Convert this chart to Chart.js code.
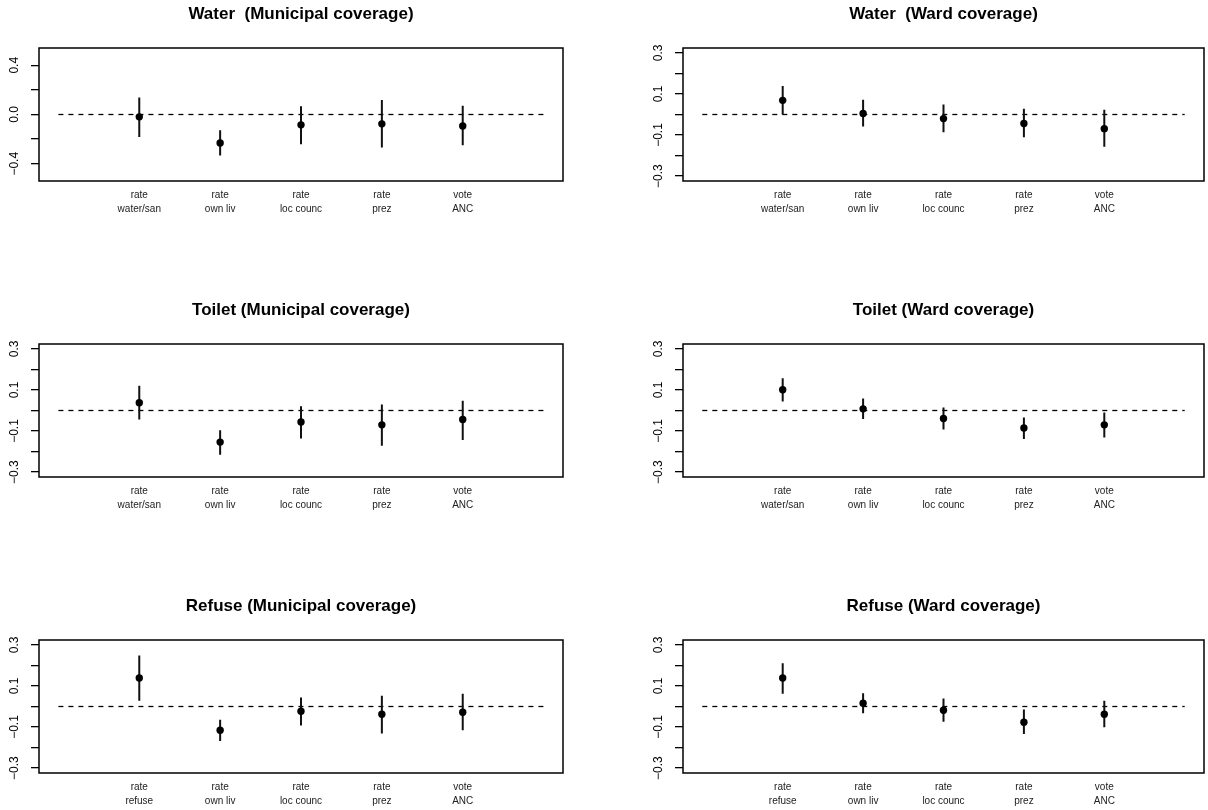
<!DOCTYPE html>
<html>
<head>
<meta charset="utf-8">
<script src="https://cdn.jsdelivr.net/npm/chart.js@4.4.1/dist/chart.umd.min.js"></script>
<style>
  body { margin: 0; background: #fff; }
  .panel { position: absolute; width: 604px; height: 296px; }
</style>
</head>
<body>
<div class="panel" style="left:0;top:0"><canvas id="p1" width="604" height="296"></canvas></div>
<div class="panel" style="left:604px;top:0"><canvas id="p2" width="604" height="296"></canvas></div>
<div class="panel" style="left:0;top:296px"><canvas id="p3" width="604" height="296"></canvas></div>
<div class="panel" style="left:604px;top:296px"><canvas id="p4" width="604" height="296"></canvas></div>
<div class="panel" style="left:0;top:592px"><canvas id="p5" width="604" height="296"></canvas></div>
<div class="panel" style="left:604px;top:592px"><canvas id="p6" width="604" height="296"></canvas></div>

<script>
// categories (two-line labels)
const catWater = [["rate", "water/san"], ["rate", "own liv"], ["rate", "loc counc"], ["rate", "prez"], ["vote", "ANC"]];
const catRefuse = [["rate", "refuse"], ["rate", "own liv"], ["rate", "loc counc"], ["rate", "prez"], ["vote", "ANC"]];
const catPos = [1, 2, 3, 4, 5];

// y ticks
const ticksWide = [-0.4, -0.2, 0, 0.2, 0.4];
const ticksWideText = ["\u22120.4", "", "0.0", "", "0.4"];
const ticksNarrow = [-0.3, -0.2, -0.1, 0, 0.1, 0.2, 0.3];
const ticksNarrowText = ["\u22120.3", "", "\u22120.1", "", "0.1", "", "0.3"];

// Water (Municipal coverage)
const waterMunEst = [-0.019, -0.231, -0.084, -0.076, -0.093];
const waterMunLo  = [-0.182, -0.332, -0.242, -0.267, -0.250];
const waterMunHi  = [0.139, -0.128, 0.068, 0.117, 0.071];

// Water (Ward coverage)
const waterWardEst = [0.069, 0.005, -0.020, -0.044, -0.069];
const waterWardLo  = [0.000, -0.059, -0.087, -0.111, -0.157];
const waterWardHi  = [0.139, 0.072, 0.049, 0.028, 0.023];

// Toilet (Municipal coverage)
const toiletMunEst = [0.038, -0.154, -0.056, -0.070, -0.044];
const toiletMunLo  = [-0.044, -0.216, -0.137, -0.172, -0.144];
const toiletMunHi  = [0.121, -0.096, 0.021, 0.029, 0.047];

// Toilet (Ward coverage)
const toiletWardEst = [0.101, 0.008, -0.039, -0.085, -0.070];
const toiletWardLo  = [0.044, -0.041, -0.093, -0.139, -0.131];
const toiletWardHi  = [0.157, 0.059, 0.015, -0.034, -0.010];

// Refuse (Municipal coverage)
const refuseMunEst = [0.139, -0.116, -0.023, -0.038, -0.028];
const refuseMunLo  = [0.028, -0.168, -0.093, -0.131, -0.116];
const refuseMunHi  = [0.248, -0.064, 0.044, 0.052, 0.062];

// Refuse (Ward coverage)
const refuseWardEst = [0.139, 0.016, -0.018, -0.077, -0.038];
const refuseWardLo  = [0.062, -0.033, -0.074, -0.134, -0.101];
const refuseWardHi  = [0.211, 0.064, 0.039, -0.015, 0.028];

const FONT = "'Liberation Sans', Arial, Helvetica, sans-serif";

// box, title, rotated y labels and two-line x labels
const panelDecor = {
  id: 'panelDecor',
  afterDraw(chart, args, opts) {
    const ctx = chart.ctx;
    const a = chart.chartArea;
    const xs = chart.scales.x, ys = chart.scales.y;
    ctx.save();
    ctx.strokeStyle = '#000';
    ctx.lineWidth = 1.5;
    ctx.strokeRect(a.left, a.top, a.right - a.left, a.bottom - a.top);

    ctx.fillStyle = '#000';
    ctx.font = 'bold 17px ' + FONT;
    ctx.textAlign = 'center';
    ctx.textBaseline = 'middle';
    ctx.fillText(opts.title, (a.left + a.right) / 2, 14);

    ctx.font = '12px ' + FONT;
    opts.yTicks.forEach((v, i) => {
      const t = opts.yText[i];
      if (!t) return;
      ctx.save();
      ctx.translate(a.left - 24, ys.getPixelForValue(v));
      ctx.rotate(-Math.PI / 2);
      ctx.fillText(t, 0, 0);
      ctx.restore();
    });

    ctx.font = '10px ' + FONT;
    ctx.fillStyle = '#222';
    opts.cats.forEach((c, i) => {
      const px = xs.getPixelForValue(catPos[i]);
      ctx.fillText(c[0], px, a.bottom + 14.5);
      ctx.fillText(c[1], px, a.bottom + 28.5);
    });
    ctx.restore();
  }
};

function makePanel(id, title, est, lo, hi, cats, yTicks, yText, yLim, boxLeft) {
  const whiskers = [];
  catPos.forEach((x, i) => {
    whiskers.push({x: x, y: lo[i]}, {x: x, y: hi[i]}, {x: x, y: null});
  });
  new Chart(document.getElementById(id), {
    type: 'scatter',
    data: {
      datasets: [{
        data: catPos.map((x, i) => ({x: x, y: est[i]})),
        pointRadius: 3.7,
        pointBackgroundColor: '#000',
        pointBorderWidth: 0,
        order: 1
      }, {
        data: whiskers,
        showLine: true,
        spanGaps: false,
        borderColor: '#111',
        borderWidth: 2,
        pointRadius: 0,
        order: 2
      }, {
        data: [{x: 0, y: 0}, {x: 6, y: 0}],
        showLine: true,
        borderColor: '#000',
        borderWidth: 1.3,
        borderDash: [5, 5],
        pointRadius: 0,
        order: 3
      }]
    },
    options: {
      responsive: false,
      animation: false,
      devicePixelRatio: 1,
      layout: {
        padding: { left: boxLeft - 20, right: 604 - boxLeft - 524, top: 48, bottom: 296 - 181 - 40 }
      },
      scales: {
        x: {
          type: 'linear',
          min: -0.24,
          max: 6.24,
          ticks: { display: false },
          grid: { display: false },
          border: { display: false },
          afterFit: s => { s.height = 40; }
        },
        y: {
          min: -yLim,
          max: yLim,
          afterBuildTicks: s => { s.ticks = yTicks.map(v => ({value: v})); },
          ticks: { display: false },
          grid: { drawOnChartArea: false, drawTicks: true, tickLength: 8, color: '#000', lineWidth: 1.3 },
          border: { display: false },
          afterFit: s => { s.width = 20; }
        }
      },
      plugins: {
        legend: { display: false },
        tooltip: { enabled: false },
        panelDecor: { title: title, cats: cats, yTicks: yTicks, yText: yText }
      }
    },
    plugins: [panelDecor]
  });
}

makePanel('p1', 'Water  (Municipal coverage)', waterMunEst, waterMunLo, waterMunHi, catWater, ticksWide, ticksWideText, 0.54, 39);
makePanel('p2', 'Water  (Ward coverage)', waterWardEst, waterWardLo, waterWardHi, catWater, ticksNarrow, ticksNarrowText, 0.324, 79);
makePanel('p3', 'Toilet (Municipal coverage)', toiletMunEst, toiletMunLo, toiletMunHi, catWater, ticksNarrow, ticksNarrowText, 0.324, 39);
makePanel('p4', 'Toilet (Ward coverage)', toiletWardEst, toiletWardLo, toiletWardHi, catWater, ticksNarrow, ticksNarrowText, 0.324, 79);
makePanel('p5', 'Refuse (Municipal coverage)', refuseMunEst, refuseMunLo, refuseMunHi, catRefuse, ticksNarrow, ticksNarrowText, 0.324, 39);
makePanel('p6', 'Refuse (Ward coverage)', refuseWardEst, refuseWardLo, refuseWardHi, catRefuse, ticksNarrow, ticksNarrowText, 0.324, 79);
</script>
</body>
</html>
